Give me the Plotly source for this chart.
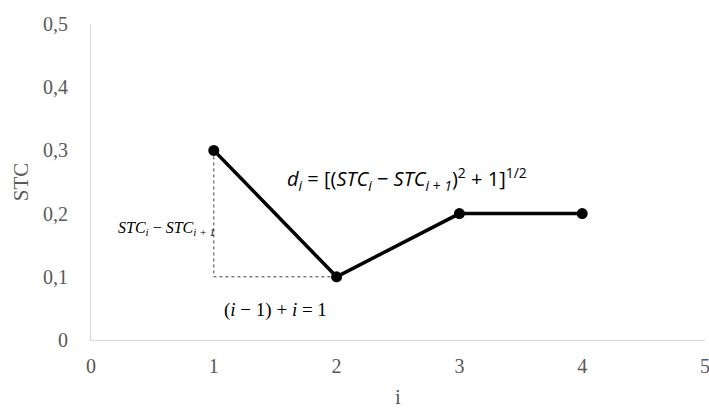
import plotly.graph_objects as go

# Series
i_vals = [1, 2, 3, 4]
stc_vals = [0.3, 0.1, 0.2, 0.2]

# Axis ticks
x_ticks = [0, 1, 2, 3, 4, 5]
y_ticks = [0, 0.1, 0.2, 0.3, 0.4, 0.5]
y_tick_labels = ["0", "0,1", "0,2", "0,3", "0,4", "0,5"]

serif = "Times New Roman"
sans = "Open Sans"
grey = "#595959"

fig = go.Figure()

# Right-triangle construction under the first segment
fig.add_trace(go.Scatter(
    x=[i_vals[0], i_vals[0], i_vals[1]],
    y=[stc_vals[0], stc_vals[1], stc_vals[1]],
    mode="lines",
    line=dict(color="#404040", width=1, dash="dot"),
    hoverinfo="skip", showlegend=False,
))

# STC curve
fig.add_trace(go.Scatter(
    x=i_vals, y=stc_vals,
    mode="lines+markers",
    line=dict(color="black", width=3.5),
    marker=dict(color="black", size=11),
    showlegend=False,
))

annotations = [
    dict(x=i_vals[0], y=0.177, xref="x", yref="y",
         xanchor="right", yanchor="middle", xshift=3,
         text="<i>STC<sub>i</sub></i> \u2212 <i>STC<sub>i + 1</sub></i>",
         showarrow=False, font=dict(family=serif, size=16, color="black")),
    dict(x=(i_vals[0] + i_vals[1]) / 2, y=stc_vals[1], xref="x", yref="y",
         xanchor="center", yanchor="top", yshift=-20,
         text="(<i>i</i> \u2212 1) + <i>i</i> = 1",
         showarrow=False, font=dict(family=serif, size=19, color="black")),
    dict(x=1.58, y=0.255, xref="x", yref="y",
         xanchor="left", yanchor="middle",
         text="<i>d<sub>i</sub></i> = [(<i>STC<sub>i</sub></i> \u2212 <i>STC<sub>i + 1</sub></i>)<sup>2</sup> + 1]<sup>1/2</sup>",
         showarrow=False, font=dict(family=sans, size=20, color="black")),
]

fig.update_layout(
    width=709, height=409,
    margin=dict(l=91, r=4, t=24, b=69),
    paper_bgcolor="white", plot_bgcolor="white",
    annotations=annotations,
    xaxis=dict(
        range=[0, 5], tickvals=x_ticks, showgrid=False, zeroline=False,
        showline=True, linecolor="#d9d9d9", linewidth=1, automargin=False,
        ticks="", ticklen=0, ticklabeloverflow="allow", ticklabelstandoff=8,
        tickfont=dict(family=serif, size=20, color=grey),
        title=dict(text="i", font=dict(family=serif, size=21, color=grey), standoff=16),
    ),
    yaxis=dict(
        range=[0, 0.5], tickvals=y_ticks, ticktext=y_tick_labels,
        showgrid=False, zeroline=False, automargin=False,
        showline=True, linecolor="#d9d9d9", linewidth=1,
        ticks="", ticklabelstandoff=18, ticklabeloverflow="allow",
        tickfont=dict(family=serif, size=20, color=grey),
        title=dict(text="STC", font=dict(family=serif, size=21, color=grey), standoff=8),
    ),
)

fig.write_html("out.html")
